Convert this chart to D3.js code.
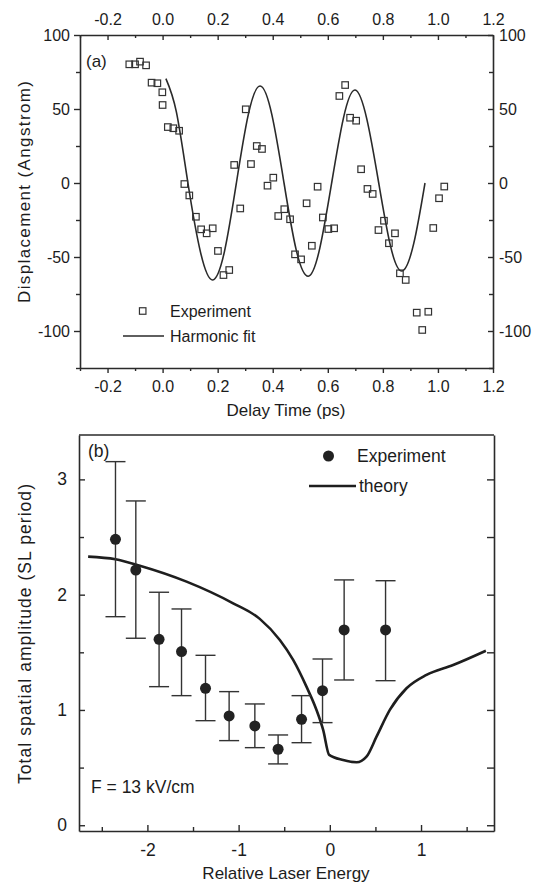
<!DOCTYPE html>
<html>
<head>
<meta charset="utf-8">
<script src="https://cdn.jsdelivr.net/npm/d3@7"></script>
<style>
  html, body { margin: 0; padding: 0; background: #fff; }
  svg { display: block; }
  text { font-family: "Liberation Sans", Arial, Helvetica, sans-serif; fill: #1c1c1c; }
</style>
</head>
<body>
<svg id="chart" width="535" height="885"></svg>
<script>
// ---------- Panel (a) data ----------
const expTime = [-0.121, -0.100, -0.082, -0.060, -0.040, -0.019, -0.001, 0.000, 0.019, 0.039, 0.060,
  0.079, 0.097, 0.121, 0.140, 0.160, 0.182, 0.201, 0.221, 0.242, 0.260, 0.282, 0.302, 0.321, 0.342,
  0.361, 0.381, 0.402, 0.420, 0.442, 0.463, 0.481, 0.503, 0.523, 0.542, 0.563, 0.582, 0.602, 0.623,
  0.642, 0.663, 0.681, 0.703, 0.721, 0.744, 0.763, 0.784, 0.804, 0.822, 0.844, 0.862, 0.883, 0.923,
  0.943, 0.965, 0.983, 1.004, 1.023];
const expDisp = [80.2, 80.2, 82.0, 79.5, 67.8, 67.4, 61.3, 52.7, 37.8, 37.0, 35.3,
  -0.7, -8.4, -22.8, -31.3, -34.0, -30.6, -45.9, -62.2, -58.8, 12.2, -17.2, 49.8, 12.8, 25.0,
  23.0, -1.8, 3.6, -22.3, -17.7, -24.5, -48.2, -51.6, -13.7, -42.4, -2.5, -23.3, -31.1, -30.6,
  58.8, 66.2, 44.1, 42.1, 9.3, -4.0, -7.4, -31.8, -25.5, -40.7, -34.0, -61.0, -65.5, -87.6,
  -99.3, -87.0, -30.4, -10.3, -2.4];
// harmonic fit
const fitTime = [0.012, 0.05, 0.092, 0.138, 0.182, 0.225, 0.268, 0.311, 0.354, 0.397, 0.441,
  0.485, 0.529, 0.571, 0.614, 0.657, 0.699, 0.742, 0.785, 0.827, 0.869, 0.912, 0.953];
const fitDisp = [70.5, 48, 0, -47, -65.5, -46, 0, 46, 65.5, 46, 0,
  -45, -63, -44, 0, 44, 62.8, 43, 0, -42, -59.5, -41, 0];
const aTicks = [-0.2, 0.0, 0.2, 0.4, 0.6, 0.8, 1.0, 1.2];
const aMinor = [-0.3, -0.1, 0.1, 0.3, 0.5, 0.7, 0.9, 1.1];
const aYTicks = [-100, -50, 0, 50, 100];
const aYMinor = [-125, -75, -25, 25, 75];

// ---------- Panel (b) data ----------
const energy = [-2.350, -2.127, -1.872, -1.626, -1.363, -1.104, -0.822, -0.567, -0.310, -0.080, 0.157, 0.611];
const ampl   = [2.480, 2.214, 1.613, 1.506, 1.188, 0.948, 0.861, 0.659, 0.919, 1.167, 1.694, 1.694];
const errHi  = [3.154, 2.813, 2.021, 1.876, 1.474, 1.159, 1.052, 0.783, 1.124, 1.442, 2.128, 2.121];
const errLo  = [1.809, 1.622, 1.202, 1.124, 0.907, 0.734, 0.673, 0.532, 0.716, 0.890, 1.260, 1.254];
const thE = [-2.65, -2.35, -2.083, -1.571, -1.060, -0.768, -0.548, -0.402, -0.256, -0.146, -0.073, -0.007,
  0.146, 0.293, 0.402, 0.512, 0.658, 0.841, 1.060, 1.352, 1.711];
const thA = [2.330, 2.307, 2.251, 2.113, 1.925, 1.790, 1.607, 1.434, 1.202, 1.000, 0.827, 0.610,
  0.566, 0.546, 0.595, 0.768, 1.000, 1.188, 1.304, 1.390, 1.514];
const bTicks = [-2, -1, 0, 1];
const bMinor = [-2.5, -1.5, -0.5, 0.5, 1.5];
const bYTicks = [0, 1, 2, 3];
const bYMinor = [0.5, 1.5, 2.5];

const svg = d3.select("#chart");
const ink = "#2a2a2a";
const FA = 16;     // panel (a) text size
const FB = 17.5;   // panel (b) text size

function styleAxis(fs) {
  return g => {
    g.selectAll("path, line").attr("stroke", ink).attr("stroke-width", 1.4);
    g.selectAll("text").attr("fill", "#1c1c1c").style("font-size", fs + "px")
      .style("font-family", '"Liberation Sans", Arial, sans-serif');
    g.select(".domain").attr("stroke-width", 1.6);
  };
}
const fmt1 = d => (d < 0 ? "-" : "") + Math.abs(d).toFixed(1);
const fmt0 = d => (d < 0 ? "-" : "") + Math.abs(d);

// ================= Panel (a) =================
const ax = d3.scaleLinear().domain([-0.3, 1.2]).range([80, 493]);
const ay = d3.scaleLinear().domain([-125, 100]).range([368, 35]);

// bottom
svg.append("g").attr("transform", "translate(0,368)")
  .call(d3.axisBottom(ax).tickValues(aTicks).tickFormat(fmt1).tickSizeInner(5).tickSizeOuter(0).tickPadding(8))
  .call(styleAxis(FA));
svg.append("g").attr("transform", "translate(0,368)")
  .call(d3.axisBottom(ax).tickValues(aMinor).tickFormat("").tickSizeInner(3).tickSizeOuter(0))
  .call(styleAxis(FA)).select(".domain").remove();
// top
svg.append("g").attr("transform", "translate(0,35)")
  .call(d3.axisTop(ax).tickValues(aTicks).tickFormat(fmt1).tickSizeInner(-5).tickSizeOuter(0).tickPadding(10))
  .call(styleAxis(FA));
svg.append("g").attr("transform", "translate(0,35)")
  .call(d3.axisTop(ax).tickValues(aMinor).tickFormat("").tickSizeInner(-3).tickSizeOuter(0))
  .call(styleAxis(FA)).select(".domain").remove();
// left
svg.append("g").attr("transform", "translate(80,0)")
  .call(d3.axisLeft(ay).tickValues(aYTicks).tickFormat(fmt0).tickSizeInner(6).tickSizeOuter(0).tickPadding(4))
  .call(styleAxis(FA));
svg.append("g").attr("transform", "translate(80,0)")
  .call(d3.axisLeft(ay).tickValues(aYMinor).tickFormat("").tickSizeInner(4).tickSizeOuter(0))
  .call(styleAxis(FA)).select(".domain").remove();
// right
svg.append("g").attr("transform", "translate(493,0)")
  .call(d3.axisRight(ay).tickValues(aYTicks).tickFormat(fmt0).tickSizeInner(-5).tickSizeOuter(0).tickPadding(6))
  .call(styleAxis(FA));
svg.append("g").attr("transform", "translate(493,0)")
  .call(d3.axisRight(ay).tickValues(aYMinor).tickFormat("").tickSizeInner(-4).tickSizeOuter(0))
  .call(styleAxis(FA)).select(".domain").remove();

// fit curve
svg.append("path")
  .datum(fitTime.map((t, i) => [t, fitDisp[i]]))
  .attr("fill", "none").attr("stroke", ink).attr("stroke-width", 1.6)
  .attr("d", d3.line().x(d => ax(d[0])).y(d => ay(d[1])).curve(d3.curveNatural));

// experiment squares
const sq = 6.5;
svg.append("g").selectAll("rect")
  .data(expTime.map((t, i) => [t, expDisp[i]]))
  .join("rect")
  .attr("x", d => ax(d[0]) - sq / 2).attr("y", d => ay(d[1]) - sq / 2)
  .attr("width", sq).attr("height", sq)
  .attr("fill", "none").attr("stroke", "#333").attr("stroke-width", 1.2);

// legend (a)
svg.append("rect").attr("x", 142.7 - sq / 2).attr("y", 311 - sq / 2).attr("width", sq).attr("height", sq)
  .attr("fill", "none").attr("stroke", "#333").attr("stroke-width", 1.2);
svg.append("text").attr("x", 170).attr("y", 317).style("font-size", FA + "px").text("Experiment");
svg.append("line").attr("x1", 123).attr("x2", 164).attr("y1", 336).attr("y2", 336)
  .attr("stroke", ink).attr("stroke-width", 1.6);
svg.append("text").attr("x", 170).attr("y", 342).style("font-size", FA + "px").text("Harmonic fit");
svg.append("text").attr("x", 86).attr("y", 67).style("font-size", "17px").text("(a)");

// titles (a)
svg.append("text").attr("x", 286).attr("y", 416).attr("text-anchor", "middle")
  .style("font-size", "17px").text("Delay Time (ps)");
svg.append("text").attr("transform", "translate(30,192) rotate(-90)").attr("text-anchor", "middle")
  .style("font-size", "17px").attr("textLength", 222).attr("lengthAdjust", "spacing")
  .text("Displacement (Angstrom)");

// ================= Panel (b) =================
const bx = d3.scaleLinear().domain([-2.75, 1.8]).range([79, 494]);
const by = d3.scaleLinear().domain([-0.05, 3.385]).range([831, 435]);

// frame top
svg.append("line").attr("x1", 79).attr("x2", 494).attr("y1", 435).attr("y2", 435)
  .attr("stroke", ink).attr("stroke-width", 1.6);
// bottom
svg.append("g").attr("transform", "translate(0,831)")
  .call(d3.axisBottom(bx).tickValues(bTicks).tickFormat(fmt0).tickSizeInner(-6).tickSizeOuter(0).tickPadding(13))
  .call(styleAxis(FB));
svg.append("g").attr("transform", "translate(0,831)")
  .call(d3.axisBottom(bx).tickValues(bMinor).tickFormat("").tickSizeInner(-4).tickSizeOuter(0))
  .call(styleAxis(FB)).select(".domain").remove();
// left
svg.append("g").attr("transform", "translate(79,0)")
  .call(d3.axisLeft(by).tickValues(bYTicks).tickFormat(fmt0).tickSizeInner(-6).tickSizeOuter(0).tickPadding(12))
  .call(styleAxis(FB));
svg.append("g").attr("transform", "translate(79,0)")
  .call(d3.axisLeft(by).tickValues(bYMinor).tickFormat("").tickSizeInner(-5).tickSizeOuter(0))
  .call(styleAxis(FB)).select(".domain").remove();
// right
svg.append("g").attr("transform", "translate(494,0)")
  .call(d3.axisRight(by).tickValues(bYTicks.concat(bYMinor)).tickFormat("").tickSizeInner(-7).tickSizeOuter(0))
  .call(styleAxis(FB));

// theory
svg.append("path")
  .datum(thE.map((e, i) => [e, thA[i]]))
  .attr("fill", "none").attr("stroke", "#1e1e1e").attr("stroke-width", 2.6)
  .attr("d", d3.line().x(d => bx(d[0])).y(d => by(d[1])).curve(d3.curveMonotoneX));

// error bars
const eb = svg.append("g").attr("stroke", "#333").attr("stroke-width", 1.4);
energy.forEach((e, i) => {
  const x = bx(e);
  eb.append("line").attr("x1", x).attr("x2", x).attr("y1", by(errHi[i])).attr("y2", by(errLo[i]));
  eb.append("line").attr("x1", x - 10).attr("x2", x + 10).attr("y1", by(errHi[i])).attr("y2", by(errHi[i]));
  eb.append("line").attr("x1", x - 10).attr("x2", x + 10).attr("y1", by(errLo[i])).attr("y2", by(errLo[i]));
});
svg.append("g").selectAll("circle")
  .data(energy.map((e, i) => [e, ampl[i]]))
  .join("circle")
  .attr("cx", d => bx(d[0])).attr("cy", d => by(d[1])).attr("r", 5.5)
  .attr("fill", "#222");

// legend (b)
svg.append("circle").attr("cx", 328.5).attr("cy", 456).attr("r", 5.5).attr("fill", "#222");
svg.append("text").attr("x", 357).attr("y", 462).style("font-size", FB + "px").text("Experiment");
svg.append("line").attr("x1", 309).attr("x2", 356).attr("y1", 486).attr("y2", 486)
  .attr("stroke", "#1e1e1e").attr("stroke-width", 2.6);
svg.append("text").attr("x", 359).attr("y", 492).style("font-size", FB + "px").text("theory");
svg.append("text").attr("x", 88).attr("y", 457).style("font-size", "17.5px").text("(b)");
svg.append("text").attr("x", 91).attr("y", 793).style("font-size", FB + "px").text("F = 13 kV/cm");

// titles (b)
svg.append("text").attr("x", 286).attr("y", 879).attr("text-anchor", "middle")
  .style("font-size", "17px").text("Relative Laser Energy");
svg.append("text").attr("transform", "translate(31,634) rotate(-90)").attr("text-anchor", "middle")
  .style("font-size", "17.5px").attr("textLength", 300).attr("lengthAdjust", "spacing")
  .text("Total spatial amplitude (SL period)");
</script>
</body>
</html>
